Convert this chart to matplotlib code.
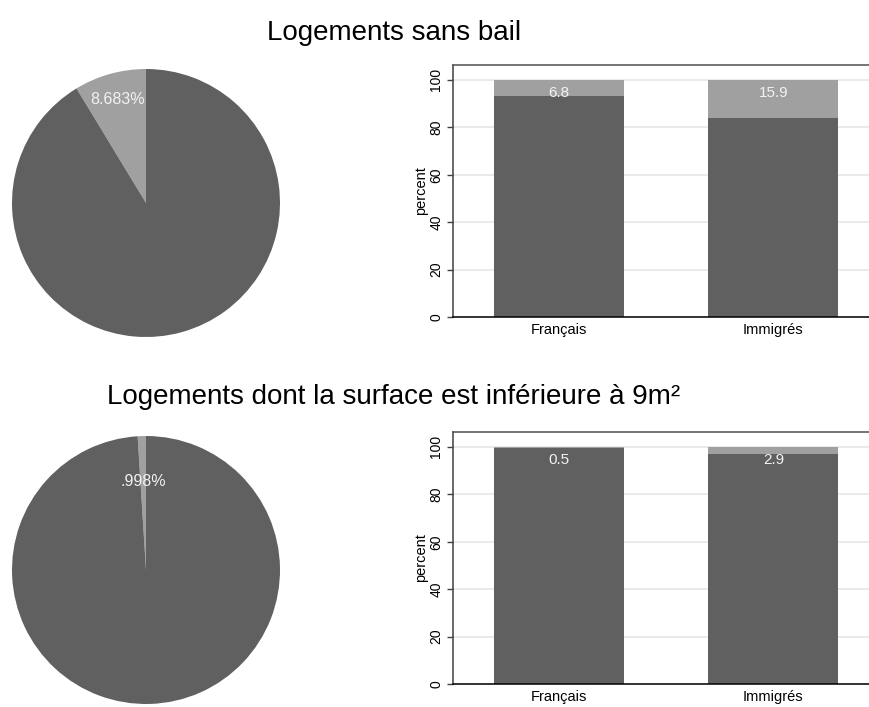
import numpy as np
import matplotlib
matplotlib.use("Agg")
import matplotlib.pyplot as plt

plt.rcParams['font.family'] = ['Liberation Sans', 'DejaVu Sans']

# Données
titres = ["Logements sans bail", "Logements dont la surface est inférieure à 9m²"]
pie_parts = [[8.683, 91.317], [0.998, 99.002]]
groupes = ["Français", "Immigrés"]
part_oui = [[6.8, 15.9], [0.5, 2.9]]
yticks = [0, 20, 40, 60, 80, 100]

sombre = "#606060"
clair = "#a0a0a0"

fig = plt.figure(figsize=(8.69, 7.07), dpi=100)
W, H = 869, 707


def px_axes(x0, y0, x1, y1):
    # position en pixels (haut-gauche, bas-droite) -> coordonnees figure
    return fig.add_axes([x0 / W, 1 - y1 / H, (x1 - x0) / W, (y1 - y0) / H])


pie_centres = [203, 570]
pct_dist = [0.8, 0.66]
bar_boxes = [(453, 65, 880, 317), (453, 432, 880, 684)]
titre_pos = [(267, 33), (107, 397)]

for i in range(2):
    # Titre
    fig.text(titre_pos[i][0] / W, 1 - titre_pos[i][1] / H, titres[i],
             fontsize=20, ha='left', va='center', color='black')

    # Camembert
    cy = pie_centres[i]
    ax = px_axes(146 - 134, cy - 134, 146 + 134, cy + 134)
    wedges, _, autotexts = ax.pie(
        pie_parts[i], colors=[clair, sombre], startangle=90, counterclock=True,
        radius=1, pctdistance=pct_dist[i],
        autopct=lambda p: (f"{p:.3f}".lstrip('0') + '%') if p < 50 else '',
        textprops=dict(color='#f2f2f2', fontsize=11.5))
    ax.set_xlim(-1, 1)
    ax.set_ylim(-1, 1)
    ax.set_aspect('auto')
    ax.axis('off')

    # Barres empilées
    bx = px_axes(*bar_boxes[i])
    x = np.arange(len(groupes))
    oui = np.array(part_oui[i])
    non = 100 - oui
    bx.bar(x, non, width=0.606, color=sombre, zorder=2)
    bx.bar(x, oui, bottom=non, width=0.606, color=clair, zorder=2)
    for xi, v in zip(x, oui):
        bx.text(xi, 94.3, f"{v:.1f}", ha='center', va='center',
                color='#f2f2f2', fontsize=11, zorder=3)
    bx.set_xlim(-0.494, 1.497)
    bx.set_ylim(0, 106.3)
    bx.set_yticks(yticks)
    bx.set_yticklabels([str(t) for t in yticks], rotation=90, va='center',
                       fontsize=10)
    bx.set_xticks(x)
    bx.set_xticklabels(groupes, fontsize=10.5)
    bx.tick_params(axis='x', length=0, pad=4)
    bx.tick_params(axis='y', length=4, width=1, color='#404040', pad=3)
    bx.set_ylabel("percent", fontsize=10.5, labelpad=1)
    bx.grid(axis='y', color='#e6e6e6', lw=1.2, zorder=0)
    bx.set_axisbelow(True)
    bx.spines['left'].set_color('#404040')
    bx.spines['left'].set_linewidth(1.1)
    bx.spines['top'].set_color('#505050')
    bx.spines['top'].set_linewidth(1.1)
    bx.spines['bottom'].set_color('black')
    bx.spines['bottom'].set_linewidth(1.1)
    bx.spines['right'].set_visible(False)

fig.savefig("out.png", dpi=100)
